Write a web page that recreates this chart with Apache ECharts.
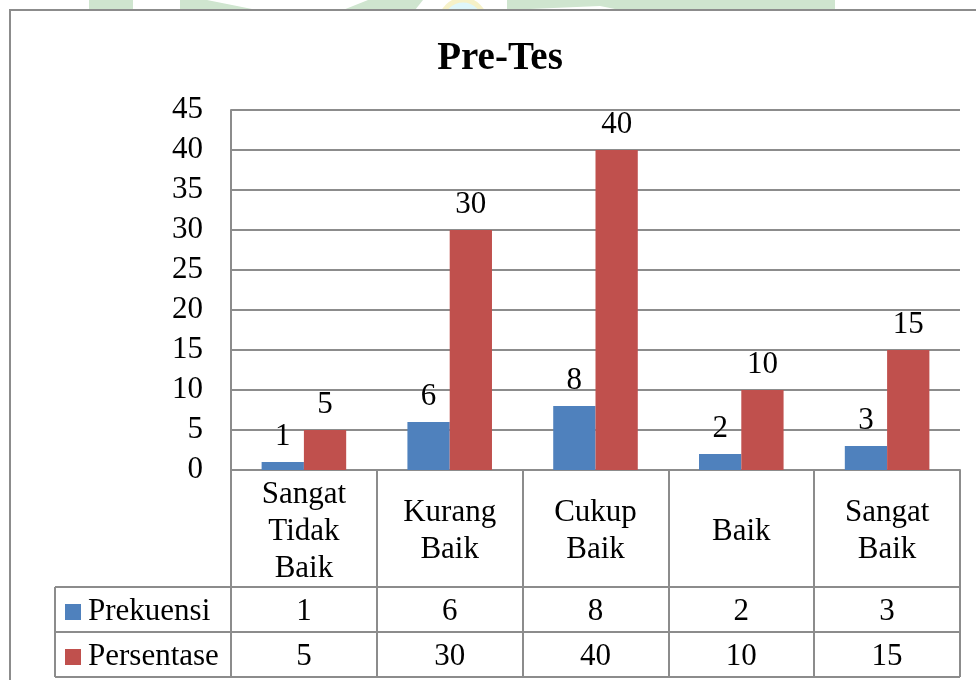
<!DOCTYPE html>
<html>
<head>
<meta charset="utf-8">
<script src="https://cdn.jsdelivr.net/npm/echarts@6/dist/echarts.min.js"></script>
<style>
  html, body { margin: 0; padding: 0; background: #ffffff; }
  #chart { width: 976px; height: 680px; }
</style>
</head>
<body>
<div id="chart"></div>
<script>
// Categories and values of the Pre-Tes results
const categories = ['Sangat\nTidak\nBaik', 'Kurang\nBaik', 'Cukup\nBaik', 'Baik', 'Sangat\nBaik'];
const seriesNames = ['Prekuensi', 'Persentase'];
const prekuensi = [1, 6, 8, 2, 3];
const persentase = [5, 30, 40, 10, 15];
const yMin = 0, yMax = 45, yStep = 5;

const FONT = '"Liberation Serif", "Times New Roman", serif';
const LINE = '#8c8c8c';
const BLUE = '#4f81bd';
const RED = '#c0504d';
const FS = 31;

// layout of the plot area and the data table beneath it
const G = { left: 231, right: 960, top: 110, bottom: 470 };
const headerH = 117, rowH = 45, tableLeft = 55;
const tableBottom = G.bottom + headerH + 2 * rowH;

const chart = echarts.init(document.getElementById('chart'), null, { renderer: 'canvas' });

// one extra category axis per table row, labelled with that row's values
function valueAxis(values, margin) {
  return {
    type: 'category',
    data: categories,
    position: 'bottom',
    gridIndex: 0,
    axisLine: { show: false },
    axisTick: { show: false },
    splitLine: { show: false },
    axisLabel: {
      interval: 0,
      margin: margin,
      verticalAlign: 'middle',
      fontFamily: FONT,
      fontSize: FS,
      color: '#000',
      formatter: (v, idx) => String(values[idx])
    }
  };
}

// one legend entry per table row
function rowLegend(name, row) {
  return {
    orient: 'vertical',
    left: 65,
    top: G.bottom + headerH + rowH * row + rowH / 2 - 13,
    padding: 0,
    itemWidth: 16,
    itemHeight: 16,
    icon: 'rect',
    data: [name],
    textStyle: { fontFamily: FONT, fontSize: FS, color: '#000', lineHeight: 26, padding: [0, 0, 0, 2] }
  };
}

const barLabel = { show: true, position: 'top', distance: 10, fontFamily: FONT, fontSize: FS, color: '#000' };

const option = {
  animation: false,
  backgroundColor: '#ffffff',
  title: {
    text: 'Pre-Tes',
    left: 495,
    top: 34,
    textAlign: 'center',
    textStyle: { fontFamily: FONT, fontWeight: 'bold', fontSize: 39, color: '#000' }
  },
  legend: [rowLegend(seriesNames[0], 0), rowLegend(seriesNames[1], 1)],
  grid: {
    left: G.left,
    right: 976 - G.right,
    top: G.top,
    bottom: 680 - G.bottom,
    containLabel: false
  },
  xAxis: [
    {
      type: 'category',
      data: categories,
      position: 'bottom',
      axisLine: { show: true, lineStyle: { color: LINE, width: 2 } },
      axisTick: { show: true, length: tableBottom - G.bottom, lineStyle: { color: LINE, width: 2 } },
      axisLabel: {
        interval: 0,
        margin: headerH / 2 + 3,
        verticalAlign: 'middle',
        lineHeight: 37,
        fontFamily: FONT,
        fontSize: FS,
        color: '#000'
      },
      splitLine: { show: false }
    },
    valueAxis(prekuensi, headerH + rowH / 2 + 2),
    valueAxis(persentase, headerH + rowH * 1.5 + 2)
  ],
  yAxis: {
    type: 'value',
    min: yMin,
    max: yMax,
    interval: yStep,
    axisLine: { show: true, lineStyle: { color: LINE, width: 2 } },
    axisTick: { show: false },
    axisLabel: { margin: 28, fontFamily: FONT, fontSize: FS, color: '#000' },
    splitLine: { show: true, lineStyle: { color: LINE, width: 2 } }
  },
  series: [
    {
      name: seriesNames[0],
      type: 'bar',
      data: prekuensi,
      barGap: '0%',
      barCategoryGap: '42%',
      itemStyle: { color: BLUE },
      label: barLabel
    },
    {
      name: seriesNames[1],
      type: 'bar',
      data: persentase,
      barGap: '0%',
      barCategoryGap: '42%',
      itemStyle: { color: RED },
      label: barLabel
    }
  ]
};

chart.setOption(option);

// table rules, chart frame and the faint green band above it
const lineStyle = { stroke: LINE, lineWidth: 2 };
const rowTops = [G.bottom + headerH, G.bottom + headerH + rowH, tableBottom];
const green = '#cfe5cf';
const graphics = [
  { type: 'rect', z: -10, shape: { x: 89, y: 0, width: 44, height: 10 }, style: { fill: green } },
  { type: 'polygon', z: -10, shape: { points: [[180, 0], [207, 0], [257, 10], [180, 10]] }, style: { fill: green } },
  { type: 'polygon', z: -10, shape: { points: [[343, 10], [368, 0], [423, 0], [415, 10]] }, style: { fill: green } },
  { type: 'circle', z: -10, shape: { cx: 463, cy: 22, r: 22 }, style: { fill: '#dff6fa', stroke: '#f6f1c8', lineWidth: 5 } },
  { type: 'polygon', z: -10, shape: { points: [[507, 0], [835, 0], [835, 10], [620, 10], [600, 6], [507, 10]] }, style: { fill: green } },
  { type: 'rect', z: -9, shape: { x: 10, y: 10, width: 1000, height: 700 }, style: { fill: '#ffffff', stroke: LINE, lineWidth: 2 } }
];
rowTops.forEach(y => {
  graphics.push({ type: 'line', z: 5, shape: { x1: tableLeft, y1: y, x2: G.right, y2: y }, style: lineStyle });
});
graphics.push({ type: 'line', z: 5, shape: { x1: tableLeft, y1: rowTops[0], x2: tableLeft, y2: tableBottom }, style: lineStyle });
chart.setOption({ graphic: graphics });
</script>
</body>
</html>
